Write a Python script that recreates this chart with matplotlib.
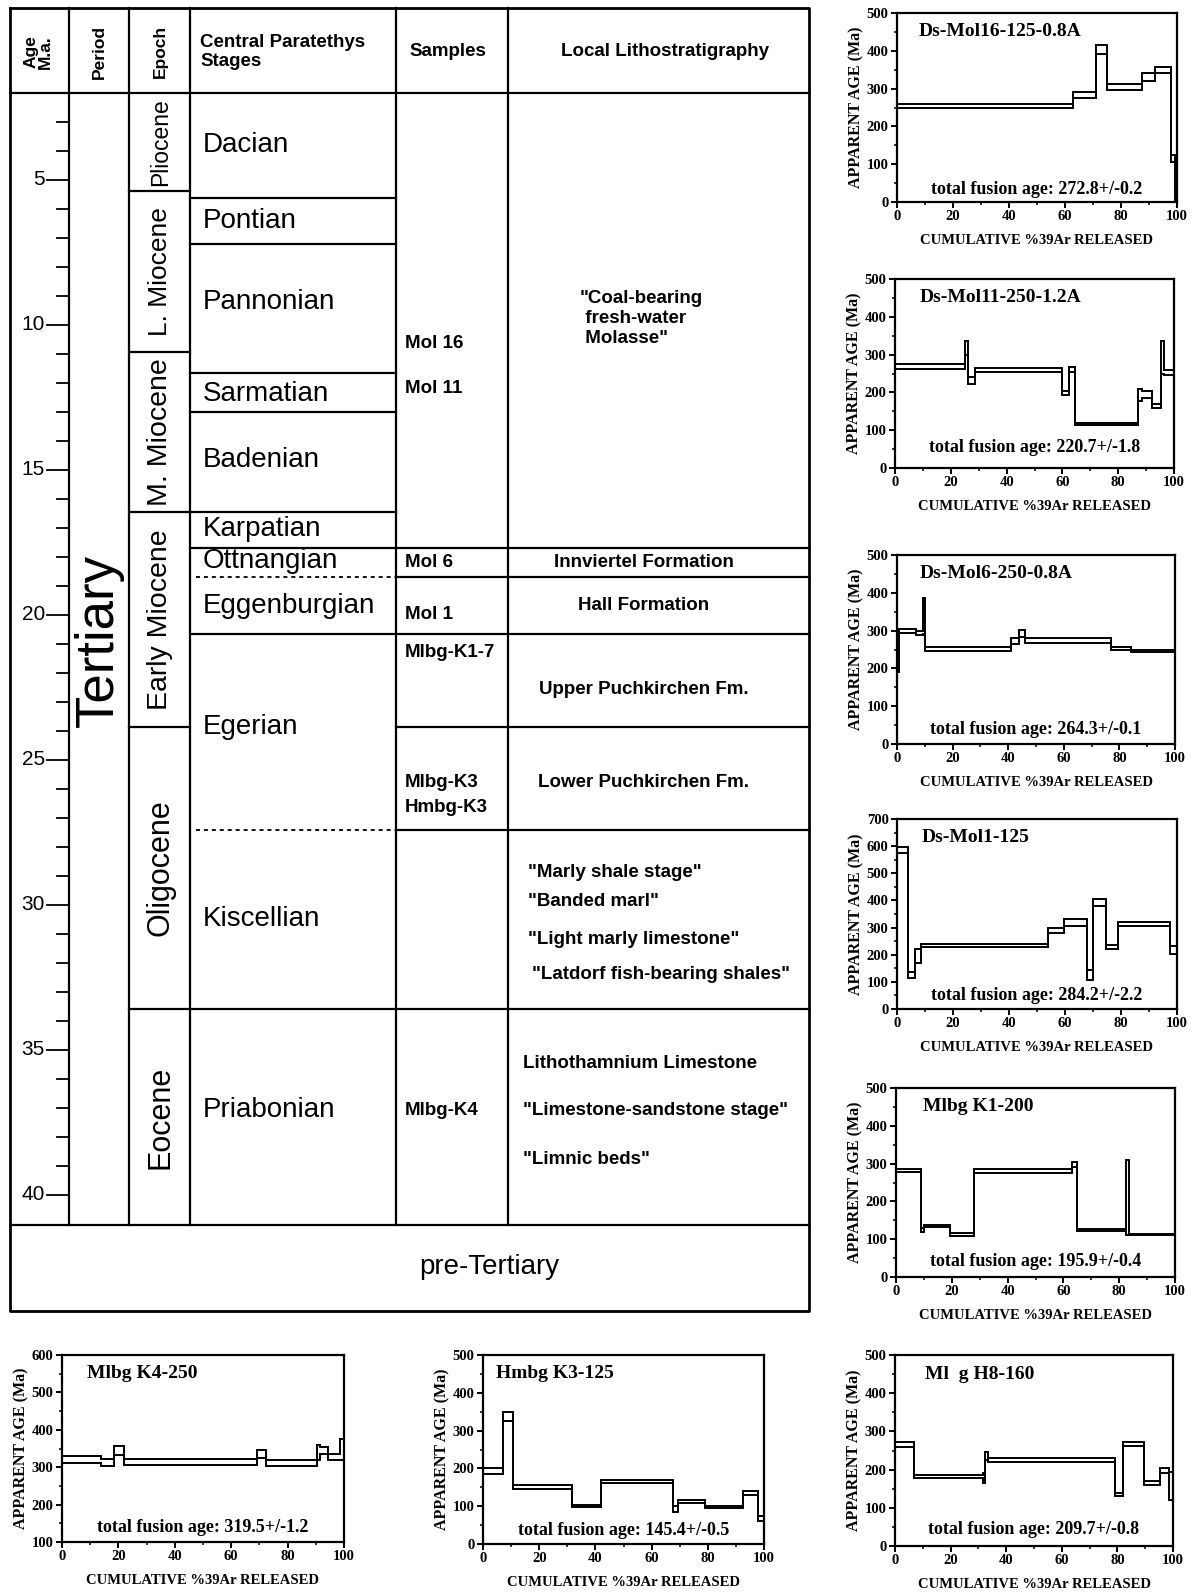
import numpy as np
import matplotlib
matplotlib.use("Agg")
from matplotlib import pyplot as plt
from matplotlib.ticker import MultipleLocator

plt.rcParams['font.family'] = ['Liberation Sans', 'DejaVu Sans']
SERIF = ['Liberation Serif', 'DejaVu Serif']

#==================================================== stratigraphic column (ages in Ma)
age_labels = [5, 10, 15, 20, 25, 30, 35, 40]
age_minor = [3, 4, 6, 7, 8, 9, 11, 12, 13, 14, 16, 17, 18, 19, 21, 22, 23, 24,
             26, 27, 28, 29, 31, 32, 33, 34, 36, 37, 38, 39]

epochs = ["Pliocene", "L. Miocene", "M. Miocene", "Early Miocene", "Oligocene", "Eocene"]
epoch_top = [2.0, 5.4, 10.95, 16.47, 23.88, 33.6]
epoch_base = [5.4, 10.95, 16.47, 23.88, 33.6, 41.05]

stages = ["Dacian", "Pontian", "Pannonian", "Sarmatian", "Badenian", "Karpatian",
          "Ottnangian", "Eggenburgian", "Egerian", "Kiscellian", "Priabonian"]
stage_base = [5.64, 7.22, 11.66, 13.0, 16.47, 17.7, 18.7, 20.67, 27.43, 33.6, 41.05]
stage_label_age = [3.82, 6.44, 9.24, 12.4, 14.67, 17.05, 18.17, 19.7, 23.88, 30.5, 37.08]

unconformity = [20.67, 41.05]
uncertain_base = [18.7, 27.43]

samples = ["Mol 16", "Mol 11", "Mol 6", "Mol 1", "Mlbg-K1-7", "Mlbg-K3", "Hmbg-K3", "Mlbg-K4"]
sample_age = [10.64, 12.22, 18.2, 20.0, 21.3, 25.8, 26.65, 37.1]

litho_base = [17.7, 18.7, 20.67, 23.88, 27.43, 33.6, 41.05]
litho_units = ['"Coal-bearing\n fresh-water\n Molasse"', "Innviertel Formation", "Hall Formation",
               "Upper Puchkirchen Fm.", "Lower Puchkirchen Fm.",
               '"Marly shale stage"', '"Banded marl"', '"Light marly limestone"',
               '"Latdorf fish-bearing shales"',
               "Lithothamnium Limestone", '"Limestone-sandstone stage"', '"Limnic beds"']
litho_age = [9.8, 18.2, 19.7, 22.57, 25.8, 28.9, 29.9, 31.2, 32.4, 35.5, 37.1, 38.8]

#==================================================== 40Ar/39Ar age spectra (cum. %39Ar, Ma)
mol16_edges = [0, 63, 71, 75, 87.5, 92, 98, 99.3, 100]
mol16_lo = [248, 276, 392, 296, 321, 341, 105, 5]
mol16_hi = [258, 290, 416, 311, 340, 358, 125, 100]

mol11_edges = [0, 25, 26, 28.5, 60, 62.5, 64.5, 87, 88.5, 92, 95.5, 96.5, 100]
mol11_lo = [263, 300, 223, 253, 194, 255, 115, 176, 186, 158, 250, 245]
mol11_hi = [275, 335, 240, 265, 205, 268, 120, 208, 203, 168, 335, 258]

mol6_edges = [0, 0.6, 7, 9.5, 10.2, 41, 44, 46, 77, 84, 100]
mol6_lo = [190, 293, 288, 290, 245, 265, 283, 268, 250, 244]
mol6_hi = [300, 305, 300, 385, 257, 280, 302, 280, 256, 250]

mol1_edges = [0, 4, 6.5, 8.5, 54, 59.5, 68, 70, 74.5, 79, 97.5, 100]
mol1_lo = [574, 115, 168, 227, 281, 306, 107, 380, 220, 306, 203]
mol1_hi = [598, 135, 221, 240, 300, 332, 144, 404, 236, 322, 233]

k1_edges = [0, 9, 10, 19.5, 28, 63, 65, 82.5, 83.5, 100]
k1_lo = [278, 120, 132, 109, 275, 292, 121, 110, 110]
k1_hi = [287, 130, 138, 116, 285, 305, 126, 310, 114]

k4_edges = [0, 14, 18.5, 22, 69, 72.5, 90.5, 91.5, 94.5, 98.5, 100]
k4_lo = [312, 303, 333, 305, 325, 302, 320, 335, 318, 320]
k4_hi = [330, 322, 358, 322, 345, 320, 360, 355, 335, 375]

hk3_edges = [0, 7, 10.5, 31.5, 42, 67.5, 69.5, 79, 92.5, 98, 100]
hk3_lo = [185, 325, 145, 97, 162, 85, 108, 95, 130, 62]
hk3_hi = [200, 348, 155, 102, 170, 100, 117, 100, 140, 75]

h8_edges = [0, 7, 31.5, 32.5, 33.5, 79, 82, 89.5, 95.5, 98.5, 100]
h8_lo = [258, 178, 165, 225, 220, 130, 262, 160, 190, 120]
h8_hi = [273, 185, 190, 245, 230, 140, 273, 170, 205, 195]

titles = ["Ds-Mol16-125-0.8A", "Ds-Mol11-250-1.2A", "Ds-Mol6-250-0.8A", "Ds-Mol1-125",
          "Mlbg K1-200", "Mlbg K4-250", "Hmbg K3-125", "Ml  g H8-160"]
fusion = ["272.8+/-0.2", "220.7+/-1.8", "264.3+/-0.1", "284.2+/-2.2",
          "195.9+/-0.4", "319.5+/-1.2", "145.4+/-0.5", "209.7+/-0.8"]

#====================================================
W, H = 1191, 1592
fig = plt.figure(figsize=(W / 100, H / 100), dpi=100)

# table axes covers the whole figure: x in pixels, y in Ma (y_px = 34.5 + 29*age)
ax = fig.add_axes([0, 0, 1, 1])
ax.set_xlim(0, W)
ax.set_ylim((H - 34.5) / 29.0, -34.5 / 29.0)
ax.axis('off')

TOP, HEAD, BOTTOM = -0.9, 2.0, 44.0
cols = [10, 69, 128.5, 190, 396, 508, 809]
LW = 1.6


def hline(age, x0, x1, style='-', lw=LW):
    if style == 'wavy':
        x = np.arange(x0, x1 + 0.5, 1.0)
        ax.plot(x, age + 0.06 * np.sin(x * 2 * np.pi / 6.0), color='k', lw=1.3)
    else:
        ax.plot([x0, x1], [age, age], color='k', lw=lw, ls=style)


# frame and columns
ax.plot([cols[0], cols[-1], cols[-1], cols[0], cols[0]],
        [TOP, TOP, BOTTOM, BOTTOM, TOP], color='k', lw=2.0)
hline(HEAD, cols[0], cols[-1])
for x in cols[1:-1]:
    ax.plot([x, x], [TOP, epoch_base[-1]], color='k', lw=LW)

# age scale
for a in age_labels:
    ax.plot([47, cols[1]], [a, a], color='k', lw=1.3)
    ax.text(45, a, str(a), ha='right', va='center', fontsize=15)
for a in age_minor:
    ax.plot([57, cols[1]], [a, a], color='k', lw=1.3)

# epochs
epoch_size = [16.5, 19, 20.5, 20.5, 22, 22]
for name, t, b, fs in zip(epochs, epoch_top, epoch_base, epoch_size):
    if b not in unconformity:
        hline(b, cols[2], cols[3])
    ax.text((cols[2] + cols[3]) / 2 + 1, (t + b) / 2, name, rotation=90, ha='center',
            va='center', fontsize=fs)

# stages
for name, b, la in zip(stages, stage_base, stage_label_age):
    if b in uncertain_base:
        hline(b, cols[3] + 6, cols[4], style=(0, (2.2, 2.2)), lw=1.3)
    elif b not in unconformity:
        hline(b, cols[3], cols[4])
    ax.text(cols[3] + 13, la, name, ha='left', va='center', fontsize=20)

# samples / lithostratigraphy boundaries
for b in litho_base:
    if b not in unconformity:
        hline(b, cols[4], cols[-1])
hline(unconformity[0], cols[3] + 2, cols[-1])
hline(unconformity[1], cols[0] + 2, cols[-1])

TFS = 13.5
for name, a in zip(samples, sample_age):
    ax.text(cols[4] + 9, a, name, ha='left', va='center', fontsize=TFS, fontweight='bold')

for i, (name, a) in enumerate(zip(litho_units, litho_age)):
    if i == 0:
        ax.text(580, a, name, ha='left', va='center', fontsize=TFS, fontweight='bold',
                linespacing=1.25)
    elif i < 5:
        ax.text(644, a, name, ha='center', va='center', fontsize=TFS, fontweight='bold')
    elif i < 9:
        ax.text(528 + (4 if i == 8 else 0), a, name, ha='left', va='center', fontsize=TFS,
                fontweight='bold')
    else:
        ax.text(523, a, name, ha='left', va='center', fontsize=TFS, fontweight='bold')

ax.text(98.5, 20.9, "Tertiary", rotation=90, ha='center', va='center', fontsize=38)
ax.text(489, 42.5, "pre-Tertiary", ha='center', va='center', fontsize=20)

# header
hy = (TOP + HEAD) / 2 + 0.05
ax.text(38, hy, "Age\nM.a.", rotation=90, ha='center', va='center', fontsize=12.5,
        fontweight='bold', linespacing=0.95)
ax.text(99, hy, "Period", rotation=90, ha='center', va='center', fontsize=12.5,
        fontweight='bold')
ax.text(160, hy, "Epoch", rotation=90, ha='center', va='center', fontsize=12.5,
        fontweight='bold')
ax.text(200, hy, "Central Paratethys\nStages", ha='left', va='center', fontsize=13.5,
        fontweight='bold', linespacing=1.1)
ax.text(448, hy, "Samples", ha='center', va='center', fontsize=13.5, fontweight='bold')
ax.text(665, hy, "Local Lithostratigraphy", ha='center', va='center', fontsize=13.5,
        fontweight='bold')

#==================================================== small age-spectrum panels
spectra = [(mol16_edges, mol16_lo, mol16_hi), (mol11_edges, mol11_lo, mol11_hi),
           (mol6_edges, mol6_lo, mol6_hi), (mol1_edges, mol1_lo, mol1_hi),
           (k1_edges, k1_lo, k1_hi), (k4_edges, k4_lo, k4_hi),
           (hk3_edges, hk3_lo, hk3_hi), (h8_edges, h8_lo, h8_hi)]
# left, top, right, bottom in pixels
boxes = [(897, 13, 1177, 202), (895, 279, 1174, 468), (897, 555, 1175, 744),
         (897, 819, 1177, 1009), (896, 1088, 1175, 1277), (62, 1355, 344, 1542),
         (483, 1355, 764, 1544), (895, 1355, 1173, 1546)]
yranges = [(0, 500), (0, 500), (0, 500), (0, 700), (0, 500), (100, 600), (0, 500), (0, 500)]
title_x = [0.078, 0.09, 0.08, 0.087, 0.098, 0.088, 0.047, 0.108]
fusion_y = [0.065, 0.11, 0.075, 0.07, 0.08, 0.075, 0.07, 0.085]

for (edges, lo, hi), (l, t, r, b), yr, name, tf, tx, fy in zip(
        spectra, boxes, yranges, titles, fusion, title_x, fusion_y):
    sa = fig.add_axes([l / W, 1 - b / H, (r - l) / W, (b - t) / H])
    sa.stairs(hi, edges, baseline=None, color='k', lw=1.4)
    sa.stairs(lo, edges, baseline=None, color='k', lw=1.4)
    sa.set_xlim(0, 100)
    sa.set_ylim(*yr)
    sa.xaxis.set_major_locator(MultipleLocator(20))
    sa.xaxis.set_minor_locator(MultipleLocator(10))
    sa.yaxis.set_major_locator(MultipleLocator(100))
    sa.yaxis.set_minor_locator(MultipleLocator(50))
    sa.tick_params(which='major', direction='out', length=4, width=1.4, labelsize=10.5, pad=2)
    sa.tick_params(which='minor', direction='out', length=2.5, width=1.1)
    for lbl in sa.get_xticklabels() + sa.get_yticklabels():
        lbl.set_family(SERIF)
        lbl.set_fontweight('bold')
    for s in sa.spines.values():
        s.set_linewidth(1.6)
    sa.set_ylabel("APPARENT AGE (Ma)", fontsize=11.5, fontweight='bold', family=SERIF,
                  labelpad=2)
    sa.set_xlabel("CUMULATIVE %39Ar RELEASED", fontsize=10.5, fontweight='bold',
                  family=SERIF, labelpad=8)
    sa.text(tx, 0.9, name, transform=sa.transAxes, ha='left', va='center', fontsize=14,
            fontweight='bold', family=SERIF)
    sa.text(0.5, fy, "total fusion age: " + tf, transform=sa.transAxes, ha='center',
            va='center', fontsize=13, fontweight='bold', family=SERIF)

plt.savefig("out.png", dpi=100)
